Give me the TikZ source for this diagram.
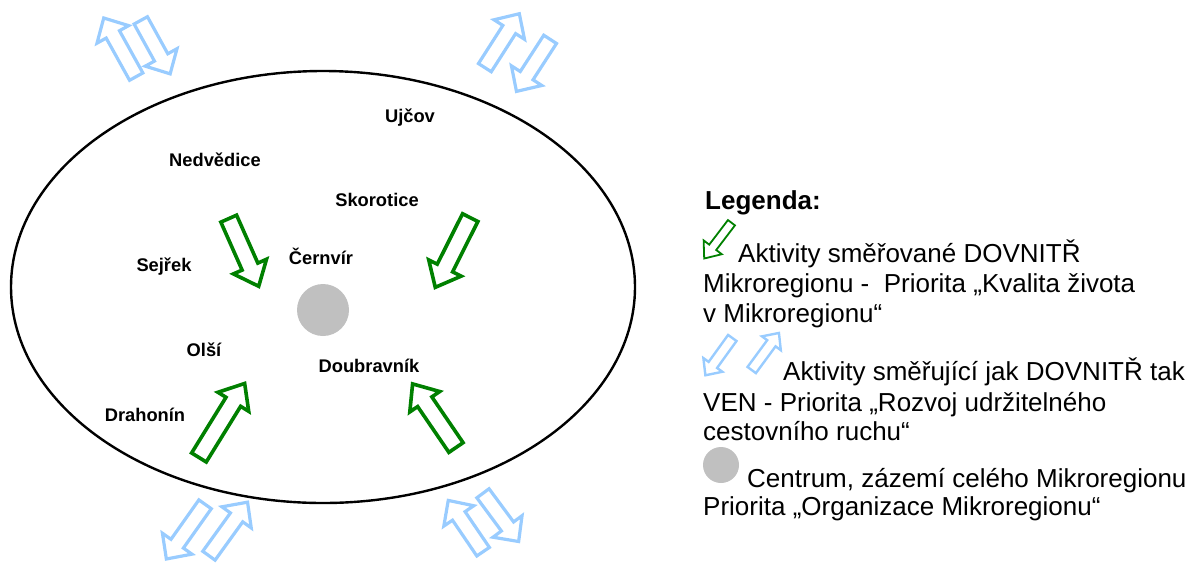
\documentclass[tikz,border=0pt]{standalone}
\usepackage{fontspec}
\setmainfont{Liberation Sans}
\usetikzlibrary{shapes.arrows}
\definecolor{arrowgreen}{RGB}{0,128,0}
\definecolor{arrowblue}{RGB}{153,204,255}
\definecolor{centregray}{RGB}{192,192,192}

\begin{document}
\begin{tikzpicture}
    [ x=1pt, y=-1pt,
      place/.style = {font=\bfseries\fontsize{18.3}{18}\selectfont, inner sep=0pt},
      legtxt/.style = {font=\fontsize{26}{30}\selectfont, anchor=base west, inner sep=0pt},
      inarrow/.style = {
        single arrow, draw=arrowgreen, line width=3.6pt,
        inner sep=6.8pt, single arrow head extend=9.5pt,
        single arrow tip angle=80, anchor=tail, minimum height=#1
      },
      bothway/.style = {
        single arrow, draw=arrowblue, line width=3.2pt,
        inner sep=6pt, single arrow head extend=10.5pt,
        single arrow tip angle=88, anchor=tail, minimum height=#1
      },
      leg-in/.style = {
        single arrow, draw=arrowgreen, line width=1.8pt,
        inner sep=3.5pt, single arrow head extend=7pt,
        single arrow tip angle=78, anchor=tail, minimum height=#1
      },
      leg-both/.style = {
        single arrow, draw=arrowblue, line width=2.4pt,
        inner sep=4pt, single arrow head extend=6.5pt,
        single arrow tip angle=85, anchor=tail, minimum height=#1
      }]
      \useasboundingbox (0,0) rectangle (1199,563);
      \draw [line width=2.4pt] (323,287) ellipse [x radius=312, y radius=216];
      \node [circle, fill=centregray, minimum size=52pt, inner sep=0pt] (centre) at (323,310) {};

      \node [place] (ujcov) at (410,118) {Ujčov};
      \node [place] (nedvedice) at (215,160) {Nedvědice};
      \node [place] (skorotice) at (377,200) {Skorotice};
      \node [place] (cernvir) at (321,256) {Černvír};
      \node [place] (sejrek) at (164,267) {Sejřek};
      \node [place] (olsi) at (204,350) {Olší};
      \node [place] (doubravnik) at (369,366) {Doubravník};
      \node [place] (drahonin) at (145,415) {Drahonín};

      \node [inarrow=74, rotate=-66.1] (in-nw) at (228,217) {};
      \node [inarrow=78, rotate=-116.6] (in-ne) at (471,216) {};
      \node [inarrow=87, rotate=58.3] (in-sw) at (198,459) {};
      \node [inarrow=77, rotate=124.3] (in-se) at (457,449) {};

      \node [bothway=67, rotate=119] (tl-out) at (137,78) {};
      \node [bothway=61, rotate=-61.2] (tl-in) at (140,19) {};
      \node [bothway=64, rotate=57.4] (tr-out) at (484,69) {};
      \node [bothway=62, rotate=-122.9] (tr-in) at (551,38) {};
      \node [bothway=67, rotate=-125.3] (bl-in) at (206,503) {};
      \node [bothway=66, rotate=54.2] (bl-out) at (208,557) {};
      \node [bothway=62, rotate=124.2] (br-out) at (484,553) {};
      \node [bothway=60, rotate=-53.5] (br-in) at (482,492) {};

      \node [font=\bfseries\fontsize{26}{30}\selectfont, anchor=base west, inner sep=0pt] (legend) at (705,209) {Legenda:};
      \node [leg-in=45, rotate=-127.3] (key-in) at (732,222) {};
      \node [legtxt] (in-1) at (738,262) {Aktivity směřované DOVNITŘ};
      \node [legtxt] (in-2) at (703,292) {Mikroregionu - \ Priorita „Kvalita života};
      \node [legtxt] (in-3) at (703,322) {v Mikroregionu“};

      \node [leg-both=46, rotate=-125.8] (key-both-a) at (733,337) {};
      \node [leg-both=46, rotate=53.7] (key-both-b) at (751,371) {};
      \node [legtxt] (both-1) at (783,380) {Aktivity směřující jak DOVNITŘ tak};
      \node [legtxt] (both-2) at (703,411) {VEN - Priorita „Rozvoj udržitelného};
      \node [legtxt] (both-3) at (703,440) {cestovního ruchu“};

      \node [circle, fill=centregray, minimum size=36pt, inner sep=0pt] (key-centre) at (721,465) {};
      \node [legtxt] (centre-1) at (747,487) {Centrum, zázemí celého Mikroregionu};
      \node [legtxt] (centre-2) at (703,515) {Priorita „Organizace Mikroregionu“};
  \end{tikzpicture}
\end{document}
